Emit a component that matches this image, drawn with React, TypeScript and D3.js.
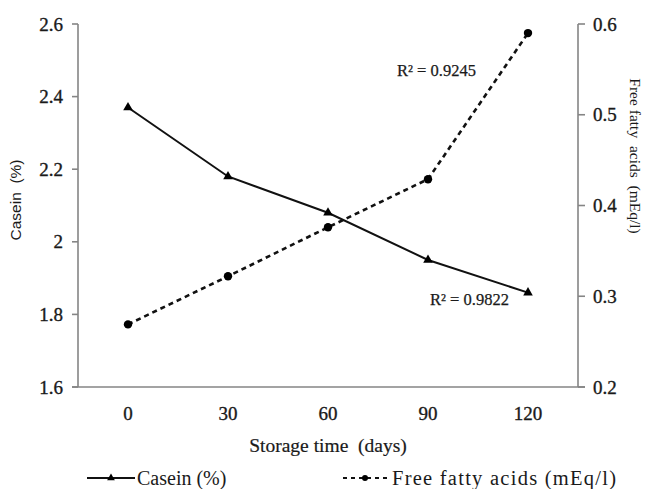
import React from 'react';
import * as d3 from 'd3';

// storage time categories (days)
const days = ['0', '30', '60', '90', '120'];
// casein (%), left axis
const casein = [2.37, 2.18, 2.08, 1.95, 1.86];
// free fatty acids (mEq/l), right axis
const ffa = [0.269, 0.322, 0.376, 0.429, 0.59];
const leftTicks = [1.6, 1.8, 2, 2.2, 2.4, 2.6];
const rightTicks = [0.2, 0.3, 0.4, 0.5, 0.6];

const width = 649;
const height = 489;
const margin = { top: 24, right: 71, bottom: 102, left: 78 };
const serif = '"Liberation Serif", "Times New Roman", serif';
const sans = '"Liberation Sans", Arial, sans-serif';
const axisColor = '#858585';
const ink = '#1a1a1a';

const App = () => {
    const x = d3.scaleBand().domain(days).range([margin.left, width - margin.right]).padding(0);
    const cx = (d: string) => (x(d) as number) + x.bandwidth() / 2;
    const yL = d3.scaleLinear().domain([1.6, 2.6]).range([height - margin.bottom, margin.top]);
    const yR = d3.scaleLinear().domain([0.2, 0.6]).range([height - margin.bottom, margin.top]);
    const x0 = margin.left;
    const x1 = width - margin.right;
    const yb = height - margin.bottom;

    const caseinLine = d3.line<number>().x((_, i) => cx(days[i])).y(d => yL(d))(casein) as string;
    const ffaLine = d3.line<number>().x((_, i) => cx(days[i])).y(d => yR(d))(ffa) as string;
    const tri = d3.symbol(d3.symbolTriangle, 40)() as string;

    return (
        <svg width={width} height={height} style={{ position: 'absolute', left: 0, top: 0, background: '#fff' }}>
            {/* axes */}
            <g stroke={axisColor} strokeWidth={1.6} fill="none">
                <line x1={x0} x2={x0} y1={margin.top} y2={yb} />
                <line x1={x1} x2={x1} y1={margin.top} y2={yb} />
                <line x1={x0 - 6} x2={x1 + 7} y1={yb} y2={yb} />
                {leftTicks.map(t => <line key={'l' + t} x1={x0 - 6} x2={x0} y1={yL(t)} y2={yL(t)} />)}
                {rightTicks.map(t => <line key={'r' + t} x1={x1} x2={x1 + 7} y1={yR(t)} y2={yR(t)} />)}
            </g>
            <g fontFamily={serif} fontSize={19} fill={ink} stroke={ink} strokeWidth={0.35}>
                {leftTicks.map(t => (
                    <text key={'lt' + t} x={x0 - 15} y={yL(t)} dy="0.35em" textAnchor="end">{d3.format('~g')(t)}</text>
                ))}
                {rightTicks.map(t => (
                    <text key={'rt' + t} x={x1 + 15} y={yR(t)} dy="0.35em">{d3.format('.1f')(t)}</text>
                ))}
                {days.map(d => (
                    <text key={'xt' + d} x={cx(d)} y={yb + 33} textAnchor="middle">{d}</text>
                ))}
                <text x={(x0 + x1) / 2} y={yb + 65} textAnchor="middle" fontSize={19.5} strokeWidth={0.2} style={{ whiteSpace: 'pre' }}>Storage time  (days)</text>
            </g>
            <text transform={`translate(21,200) rotate(-90)`} textAnchor="middle" fontFamily={sans} fontSize={15.5} fill={ink} style={{ whiteSpace: 'pre' }}>Casein  (%)</text>
            <text transform={`translate(630,156) rotate(90)`} textAnchor="middle" fontFamily={serif} fontSize={15.5} fill={ink} style={{ whiteSpace: 'pre' }}>Free fatty  acids  (mEq/l)</text>

            {/* series */}
            <path d={caseinLine} fill="none" stroke="#111" strokeWidth={2} />
            <path d={ffaLine} fill="none" stroke="#111" strokeWidth={2.6} strokeDasharray="5 4" />
            {casein.map((v, i) => (
                <path key={'c' + i} d={tri} transform={`translate(${cx(days[i])},${yL(v)})`} fill="#000" />
            ))}
            {ffa.map((v, i) => (
                <circle key={'f' + i} cx={cx(days[i])} cy={yR(v)} r={4.2} fill="#000" />
            ))}

            {/* R² annotations */}
            <g fontFamily={serif} fontSize={16.5} fill={ink} stroke={ink} strokeWidth={0.25}>
                <text x={397} y={76}>R² = 0.9245</text>
                <text x={430} y={305}>R² = 0.9822</text>
            </g>

            {/* legend */}
            <g>
                <line x1={87} x2={135} y1={478} y2={478} stroke="#111" strokeWidth={2} />
                <path d={d3.symbol(d3.symbolTriangle, 26)() as string} transform="translate(111,478)" fill="#000" />
                <text x={137} y={485} fontFamily={serif} fontSize={20} fill={ink}>Casein (%)</text>
                <line x1={343} x2={388} y1={478} y2={478} stroke="#111" strokeWidth={2} strokeDasharray="4 4" />
                <circle cx={365} cy={478} r={3} fill="#000" />
                <text x={392} y={485} fontFamily={serif} fontSize={20.5} fill={ink} textLength={224} lengthAdjust="spacing">Free fatty acids (mEq/l)</text>
            </g>
        </svg>
    );
};

export default App;
